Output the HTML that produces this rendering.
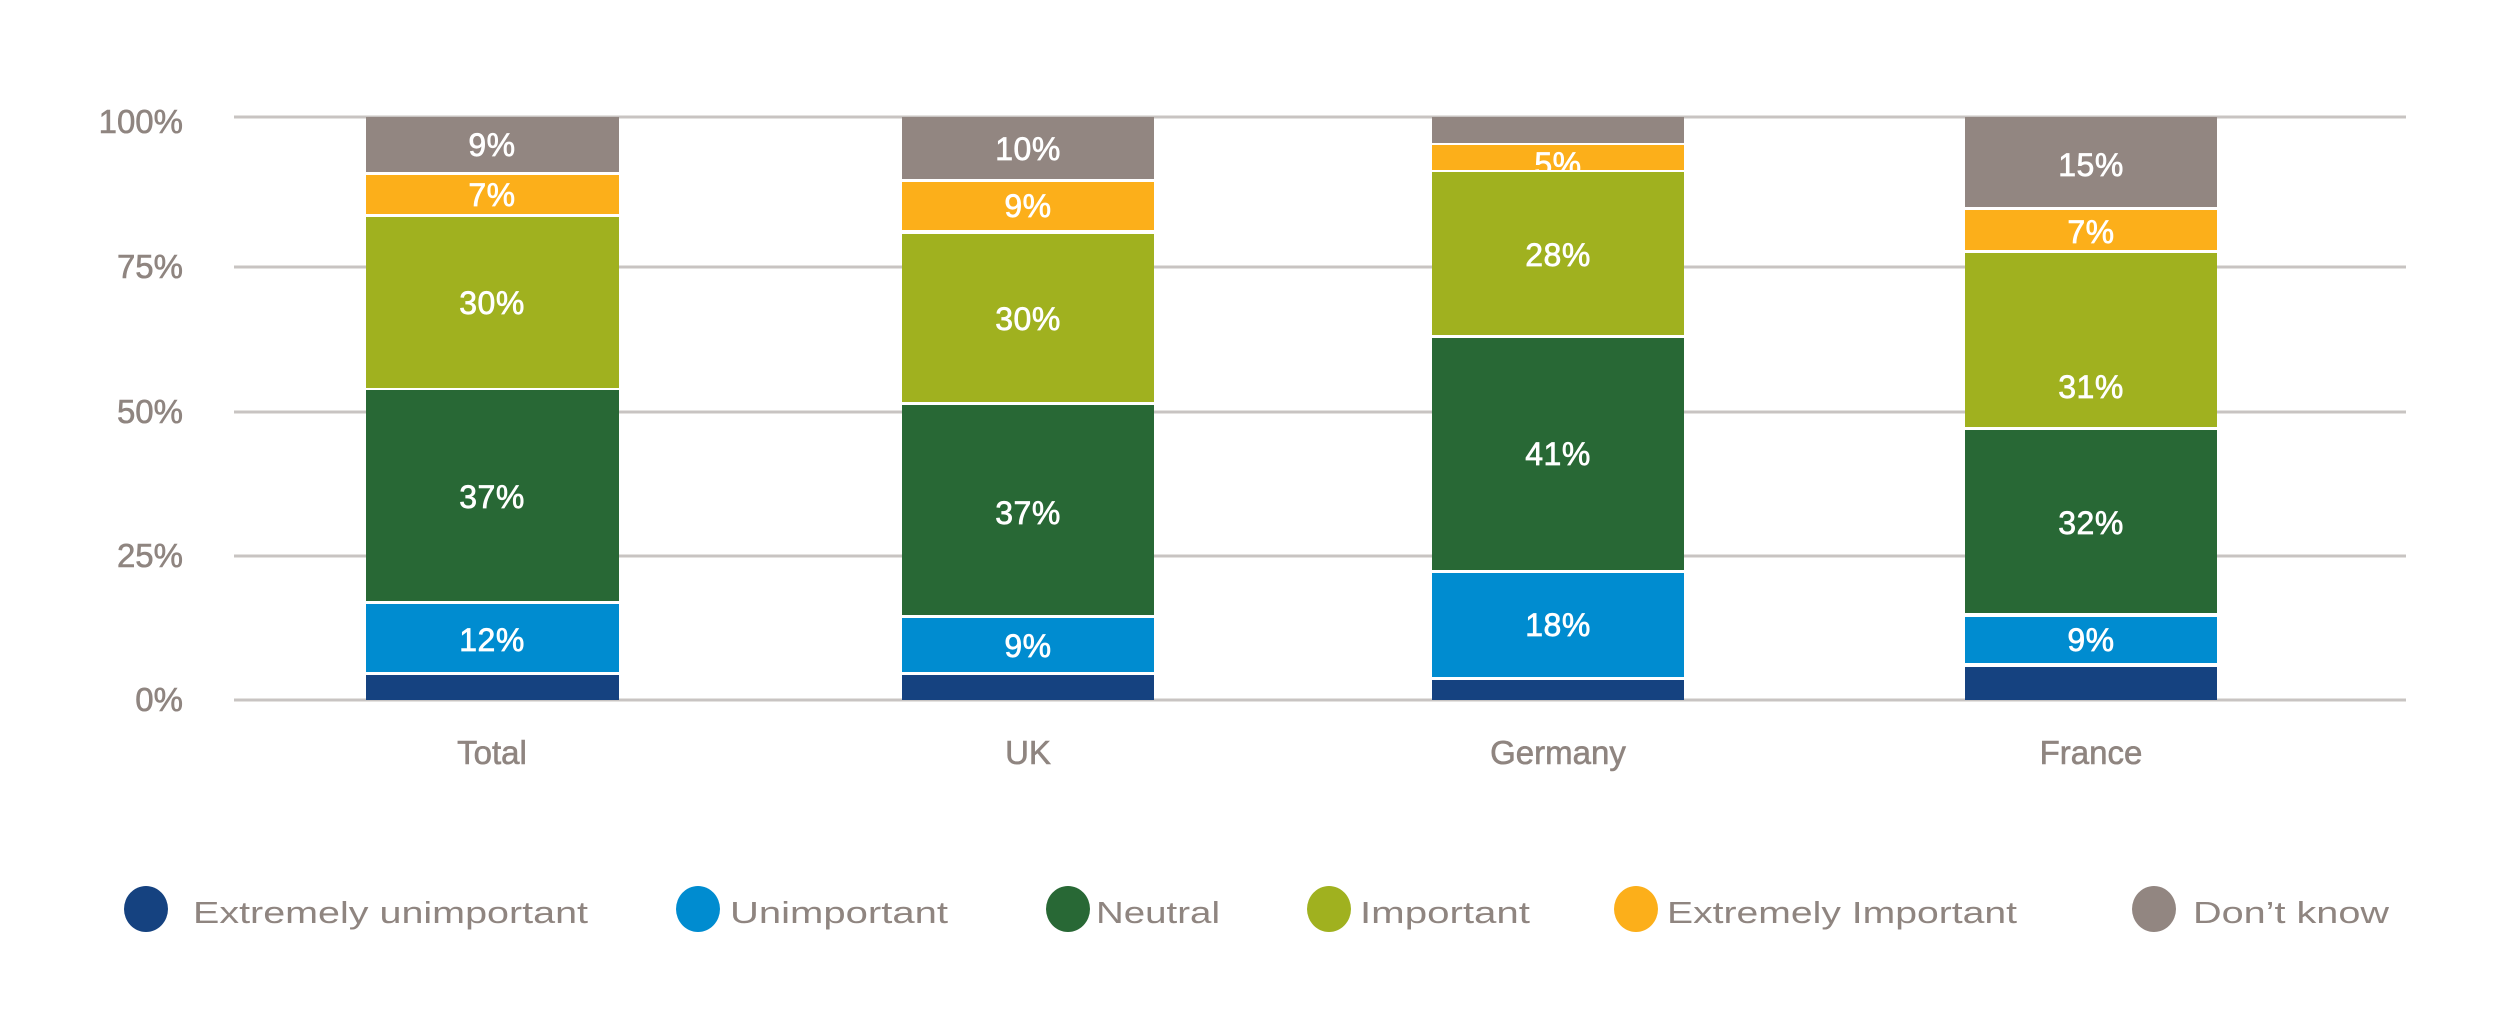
<!DOCTYPE html>
<html><head><meta charset="utf-8"><style>
html,body{margin:0;padding:0;background:#fff;}
svg{display:block;}
.t{font-family:"Liberation Sans",sans-serif;fill:#8f8580;}
.v{font-family:"Liberation Sans",sans-serif;fill:#fff;font-size:32px;text-anchor:middle;stroke:#fff;stroke-width:0.7;letter-spacing:0.5px;}
</style></head><body>
<svg width="2495" height="1036" viewBox="0 0 2495 1036" xmlns="http://www.w3.org/2000/svg">
<g stroke="#c8c4c2" stroke-width="3">
<line x1="234" y1="117" x2="2406" y2="117"/>
<line x1="234" y1="267" x2="2406" y2="267"/>
<line x1="234" y1="412" x2="2406" y2="412"/>
<line x1="234" y1="556" x2="2406" y2="556"/>
<line x1="234" y1="700" x2="2406" y2="700"/>
</g>
<g class="t" font-size="33" text-anchor="end" stroke="#8f8580" stroke-width="0.6">
<text x="183" y="133">100%</text>
<text x="183" y="278">75%</text>
<text x="183" y="423">50%</text>
<text x="183" y="567">25%</text>
<text x="183" y="711">0%</text>
</g>
<!-- Total -->
<g>
<rect x="366" y="117" width="253" height="55" fill="#928681"/>
<rect x="366" y="175" width="253" height="39" fill="#fcaf1a"/>
<rect x="366" y="217" width="253" height="171" fill="#a0b11f"/>
<rect x="366" y="390" width="253" height="211" fill="#286835"/>
<rect x="366" y="604" width="253" height="68" fill="#008cd0"/>
<rect x="366" y="675" width="253" height="25" fill="#154280"/>
<text class="v" x="492" y="156">9%</text>
<text class="v" x="492" y="206">7%</text>
<text class="v" x="492" y="314">30%</text>
<text class="v" x="492" y="508">37%</text>
<text class="v" x="492" y="651">12%</text>
</g>
<!-- UK -->
<g>
<rect x="902" y="117" width="252" height="62" fill="#928681"/>
<rect x="902" y="182" width="252" height="48" fill="#fcaf1a"/>
<rect x="902" y="234" width="252" height="168" fill="#a0b11f"/>
<rect x="902" y="405" width="252" height="210" fill="#286835"/>
<rect x="902" y="618" width="252" height="54" fill="#008cd0"/>
<rect x="902" y="675" width="252" height="25" fill="#154280"/>
<text class="v" x="1028" y="160">10%</text>
<text class="v" x="1028" y="217">9%</text>
<text class="v" x="1028" y="330">30%</text>
<text class="v" x="1028" y="524">37%</text>
<text class="v" x="1028" y="657">9%</text>
</g>
<!-- Germany -->
<g>
<rect x="1432" y="117" width="252" height="26" fill="#928681"/>
<svg x="1432" y="145" width="252" height="25" overflow="hidden"><rect width="252" height="25" fill="#fcaf1a"/><text class="v" x="126" y="30">5%</text></svg>
<rect x="1432" y="172" width="252" height="163" fill="#a0b11f"/>
<rect x="1432" y="338" width="252" height="232" fill="#286835"/>
<rect x="1432" y="573" width="252" height="104" fill="#008cd0"/>
<rect x="1432" y="680" width="252" height="20" fill="#154280"/>
<text class="v" x="1558" y="266">28%</text>
<text class="v" x="1558" y="465">41%</text>
<text class="v" x="1558" y="636">18%</text>
</g>
<!-- France -->
<g>
<rect x="1965" y="117" width="252" height="90" fill="#928681"/>
<rect x="1965" y="210" width="252" height="40" fill="#fcaf1a"/>
<rect x="1965" y="253" width="252" height="174" fill="#a0b11f"/>
<rect x="1965" y="430" width="252" height="183" fill="#286835"/>
<rect x="1965" y="617" width="252" height="46" fill="#008cd0"/>
<rect x="1965" y="667" width="252" height="33" fill="#154280"/>
<text class="v" x="2091" y="176">15%</text>
<text class="v" x="2091" y="243">7%</text>
<text class="v" x="2091" y="398">31%</text>
<text class="v" x="2091" y="534">32%</text>
<text class="v" x="2091" y="651">9%</text>
</g>
<g class="t" font-size="33" text-anchor="middle" stroke="#8f8580" stroke-width="0.6">
<text x="492" y="764">Total</text>
<text x="1028" y="764">UK</text>
<text x="1558" y="764">Germany</text>
<text x="2091" y="764">France</text>
</g>
<g>
<ellipse cx="146" cy="909" rx="22" ry="23" fill="#154280"/>
<ellipse cx="698" cy="909" rx="22" ry="23" fill="#008cd0"/>
<ellipse cx="1068" cy="909" rx="22" ry="23" fill="#286835"/>
<ellipse cx="1329" cy="909" rx="22" ry="23" fill="#a0b11f"/>
<ellipse cx="1636" cy="909" rx="22" ry="23" fill="#fcaf1a"/>
<ellipse cx="2154" cy="909" rx="22" ry="23" fill="#928681"/>
</g>
<g class="t" font-size="31">
<text x="193" y="923" textLength="395" lengthAdjust="spacingAndGlyphs">Extremely unimportant</text>
<text x="730" y="923" textLength="218" lengthAdjust="spacingAndGlyphs">Unimportant</text>
<text x="1096" y="923" textLength="124" lengthAdjust="spacingAndGlyphs">Neutral</text>
<text x="1360" y="923" textLength="170" lengthAdjust="spacingAndGlyphs">Important</text>
<text x="1667" y="923" textLength="350" lengthAdjust="spacingAndGlyphs">Extremely Important</text>
<text x="2193" y="923" textLength="196" lengthAdjust="spacingAndGlyphs">Don’t know</text>
</g>
</svg>
</body></html>
